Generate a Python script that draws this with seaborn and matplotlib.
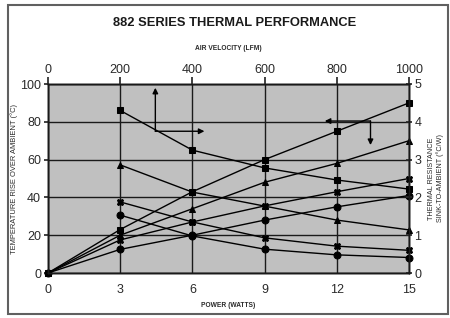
import pandas as pd
import matplotlib.pyplot as plt
import seaborn as sns
from matplotlib.patches import Rectangle

# Temperature rise vs power (bottom / left axes)
power = [0, 3, 6, 9, 12, 15]
rise_square = [0, 23, 43, 60, 75, 90]
rise_triangle = [0, 20, 34, 48, 58, 70]
rise_x = [0, 17.5, 27, 35.5, 43, 50]
rise_circle = [0, 12.5, 20, 28, 35, 41]

# Thermal resistance vs air velocity (top / right axes)
velocity = [200, 400, 600, 800, 1000]
res_square = [4.30, 3.25, 2.78, 2.46, 2.22]
res_triangle = [2.86, 2.14, 1.77, 1.40, 1.14]
res_x = [1.88, 1.35, 0.93, 0.71, 0.60]
res_circle = [1.53, 0.98, 0.63, 0.48, 0.41]

power_ticks = [0, 3, 6, 9, 12, 15]
rise_ticks = [0, 20, 40, 60, 80, 100]
velocity_ticks = [0, 200, 400, 600, 800, 1000]
res_ticks = [0, 1, 2, 3, 4, 5]

rise_df = pd.DataFrame({
    'power': power * 4,
    'rise': rise_square + rise_triangle + rise_x + rise_circle,
    'series': ['sq'] * 6 + ['tri'] * 6 + ['x'] * 6 + ['ci'] * 6,
})
res_df = pd.DataFrame({
    'velocity': velocity * 4,
    'res': res_square + res_triangle + res_x + res_circle,
    'series': ['sq'] * 5 + ['tri'] * 5 + ['x'] * 5 + ['ci'] * 5,
})
marker_map = {'sq': 's', 'tri': '^', 'x': 'X', 'ci': 'o'}

sns.set_theme(style='ticks')
plt.rcParams['font.family'] = ['Liberation Sans', 'DejaVu Sans']

fig = plt.figure(figsize=(4.5, 3.18), dpi=100)
fig.patch.set_facecolor('white')
ax = fig.add_axes([48 / 450, 1 - 273 / 318, 361 / 450, 189 / 318])
ax.set_facecolor('#c0c0c0')

# figure border
fig.patches.append(Rectangle((8 / 450, 1 - 314 / 318), 440 / 450, 309 / 318,
                             transform=fig.transFigure, fill=False,
                             edgecolor='#606060', lw=1.5))

sns.lineplot(data=rise_df, x='power', y='rise', style='series',
             markers=marker_map, dashes=False, color='black', lw=1,
             markersize=5, markeredgecolor='black', legend=False,
             clip_on=False, zorder=3, ax=ax)

axr = ax.twinx()
axt = axr.twiny()
sns.lineplot(data=res_df, x='velocity', y='res', style='series',
             markers=marker_map, dashes=False, color='black', lw=1,
             markersize=5, markeredgecolor='black', legend=False,
             clip_on=False, ax=axt)

ax.set_xlim(0, 15)
ax.set_ylim(0, 100)
axr.set_ylim(0, 5)
axt.set_xlim(0, 1000)
ax.set_xticks(power_ticks)
ax.set_yticks(rise_ticks)
axr.set_yticks(res_ticks)
axt.set_xticks(velocity_ticks)

ax.grid(True, color='#1a1a1a', lw=1)
for a in (ax, axr, axt):
    for s in a.spines.values():
        s.set_color('#1a1a1a')
        s.set_linewidth(1)

tick_color = '#2a2a2a'
ax.tick_params(axis='x', labelsize=9, length=0, pad=8, colors=tick_color)
ax.tick_params(axis='y', labelsize=9, length=3, pad=2, colors=tick_color)
axr.tick_params(axis='y', labelsize=9, length=4, pad=2, direction='inout', colors=tick_color)
axt.tick_params(axis='x', labelsize=9, length=5, pad=1, colors=tick_color)

ax.set_xlabel('POWER (WATTS)', fontsize=4.8, fontweight='bold', color=tick_color)
ax.set_ylabel('TEMPERATURE RISE OVER AMBIENT (°C)', fontsize=5.4, color=tick_color)
axr.set_ylabel('THERMAL RESISTANCE\nSINK-TO-AMBIENT (°C/W)', fontsize=5.2, color=tick_color)
axt.set_xlabel('AIR VELOCITY (LFM)', fontsize=4.8, fontweight='bold', color=tick_color)
ax.xaxis.set_label_coords(0.5, -0.155)
axt.xaxis.set_label_coords(0.5, 1.18)
ax.yaxis.set_label_coords(-0.083, 0.5)
axr.yaxis.set_label_coords(1.052, 0.5)

fig.text(235 / 450, 1 - 23 / 318, '882 SERIES THERMAL PERFORMANCE',
         ha='center', va='center', fontsize=9.3, fontweight='bold', color='#1a1a1a')

# axis reading arrows
arrow = dict(arrowstyle='-|>', color='black', lw=1, mutation_scale=8, shrinkA=0, shrinkB=0)
ax.annotate('', xy=(4.46, 98), xytext=(4.46, 75), arrowprops=arrow)
ax.annotate('', xy=(6.5, 75), xytext=(4.46, 75), arrowprops=arrow)
ax.annotate('', xy=(11.5, 80.4), xytext=(13.4, 80.4), arrowprops=arrow)
ax.annotate('', xy=(13.4, 67.7), xytext=(13.4, 80.4), arrowprops=arrow)

fig.savefig('out.png', dpi=100)
